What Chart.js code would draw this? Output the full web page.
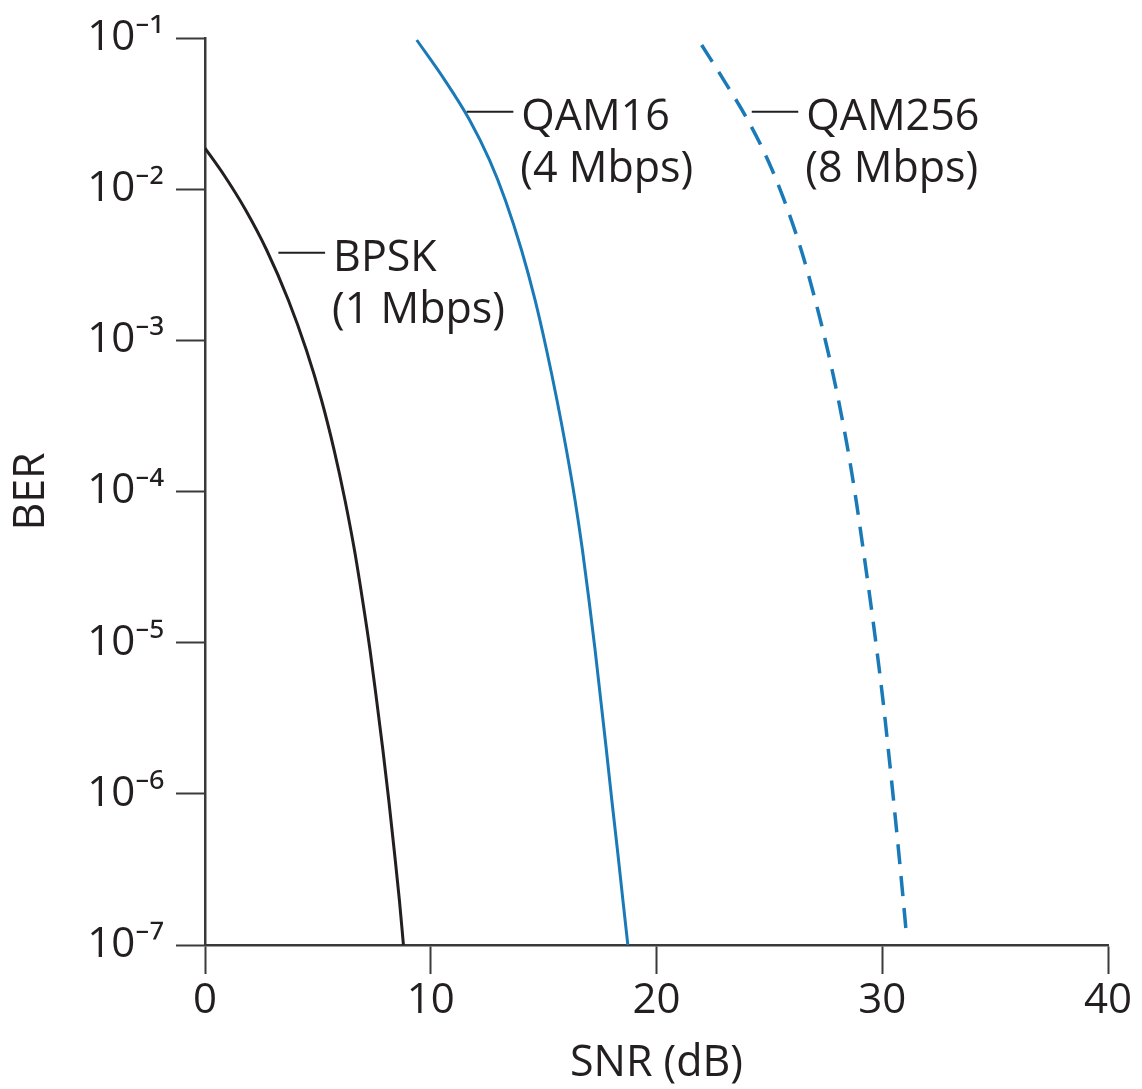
<!DOCTYPE html>
<html>
<head>
<meta charset="utf-8">
<script src="https://cdn.jsdelivr.net/npm/chart.js@4.4.0/dist/chart.umd.min.js"></script>
<style>
html,body{margin:0;padding:0;background:#ffffff;}
#wrap{width:1142px;height:1089px;position:relative;}
</style>
</head>
<body>
<div id="wrap"><canvas id="c"></canvas></div>
<script>
// ---- data ----
const bpskSnr = [0, 0.84, 1.80, 2.73, 3.69, 4.49, 5.16, 5.72, 6.20, 6.62, 6.98, 7.31, 7.60, 7.88, 8.14, 8.38, 8.61, 8.79];
const bpskBer = [1.87e-2, 1.24e-2, 7.28e-3, 3.96e-3, 1.85e-3, 8.63e-4, 4.03e-4, 1.88e-4, 8.79e-5, 4.10e-5, 1.91e-5, 8.94e-6, 4.18e-6, 1.95e-6, 9.10e-7, 4.25e-7, 1.99e-7, 1.0e-7];

const qam16Snr = [9.38, 10.62, 11.72, 12.60, 13.31, 14.02, 14.62, 15.13, 15.59, 16.01, 16.39, 16.72, 17.01, 17.28, 17.53, 17.78, 18.02, 18.27, 18.51, 18.73];
const qam16Ber = [9.7e-2, 5.27e-2, 2.87e-2, 1.56e-2, 8.42e-3, 3.96e-3, 1.85e-3, 8.63e-4, 4.03e-4, 1.88e-4, 8.79e-5, 4.10e-5, 1.91e-5, 8.94e-6, 4.18e-6, 1.95e-6, 9.10e-7, 4.25e-7, 1.99e-7, 1.0e-7];

const qam256Snr = [22.00, 22.98, 24.04, 24.93, 25.66, 26.41, 27.03, 27.58, 28.06, 28.48, 28.84, 29.16, 29.47, 29.76, 30.03, 30.27, 30.50, 30.72, 30.93, 31.08];
const qam256Ber = [8.99e-2, 5.27e-2, 2.87e-2, 1.56e-2, 8.42e-3, 3.96e-3, 1.85e-3, 8.63e-4, 4.03e-4, 1.88e-4, 8.79e-5, 4.10e-5, 1.91e-5, 8.94e-6, 4.18e-6, 1.95e-6, 9.10e-7, 4.25e-7, 1.99e-7, 1.13e-7];

const seriesNames = ['BPSK', 'QAM16', 'QAM256'];
const seriesRates = ['(1 Mbps)', '(4 Mbps)', '(8 Mbps)'];

const xTickValues = [0, 10, 20, 30, 40];
const yTickValues = [1e-7, 1e-6, 1e-5, 1e-4, 1e-3, 1e-2, 1e-1];
const yTickLabels = ['10\u207B\u2077', '10\u207B\u2076', '10\u207B\u2075', '10\u207B\u2074', '10\u207B\u00B3', '10\u207B\u00B2', '10\u207B\u00B9'];

const xTitle = 'SNR (dB)';
const yTitle = 'BER';

// leader-line anchors for the curve labels (data coordinates)
const labelLeaderStart = [3.25, 11.59, 24.22];
const labelLeaderEnd   = [5.32, 13.66, 26.28];
const labelLeaderBer   = [3.79e-3, 3.25e-2, 3.25e-2];

// ---- styling ----
const INK = '#231f20';
const AXIS = '#3a3a3a';
const BLUE = '#1a7ab8';
const FONT = "'Open Sans', 'Noto Sans', 'DejaVu Sans', sans-serif";
Chart.defaults.font.family = FONT;
Chart.defaults.color = INK;

const zip = (xs, ys) => xs.map((x, i) => ({x: x, y: ys[i]}));

const labelPlugin = {
  id: 'curveLabels',
  afterDatasetsDraw(chart) {
    const ctx = chart.ctx;
    const xs = chart.scales.x, ys = chart.scales.y;
    ctx.save();
    for (let i = 0; i < seriesNames.length; i++) {
      const x0 = xs.getPixelForValue(labelLeaderStart[i]);
      const x1 = xs.getPixelForValue(labelLeaderEnd[i]);
      const y = ys.getPixelForValue(labelLeaderBer[i]);
      ctx.strokeStyle = INK;
      ctx.lineWidth = 2;
      ctx.beginPath();
      ctx.moveTo(x0, y);
      ctx.lineTo(x1, y);
      ctx.stroke();
      ctx.fillStyle = INK;
      ctx.font = '43px ' + FONT;
      ctx.textAlign = 'left';
      ctx.textBaseline = 'alphabetic';
      ctx.fillText(seriesNames[i], x1 + 8, y + 18);
      ctx.fillText(seriesRates[i], x1 + 7, y + 70);
    }
    ctx.restore();
  }
};

new Chart(document.getElementById('c'), {
  type: 'line',
  data: {
    datasets: [
      {label: seriesNames[0], data: zip(bpskSnr, bpskBer), borderColor: INK, borderWidth: 3, pointRadius: 0, cubicInterpolationMode: 'monotone', fill: false},
      {label: seriesNames[1], data: zip(qam16Snr, qam16Ber), borderColor: BLUE, borderWidth: 3, pointRadius: 0, cubicInterpolationMode: 'monotone', fill: false},
      {label: seriesNames[2], data: zip(qam256Snr, qam256Ber), borderColor: BLUE, borderWidth: 3.5, borderDash: [20, 12], pointRadius: 0, cubicInterpolationMode: 'monotone', fill: false}
    ]
  },
  options: {
    responsive: true,
    maintainAspectRatio: false,
    animation: false,
    layout: {padding: {top: 38, right: 34, left: 0, bottom: 0}},
    plugins: {legend: {display: false}, tooltip: {enabled: false}},
    scales: {
      x: {
        type: 'linear',
        min: 0, max: 40,
        afterBuildTicks: s => { s.ticks = xTickValues.map(v => ({value: v})); },
        afterFit: s => { s.height = 144; },
        grid: {drawOnChartArea: false, drawTicks: true, tickLength: 29, tickWidth: 2, tickColor: AXIS, color: AXIS},
        border: {display: true, color: AXIS, width: 2.5},
        ticks: {color: INK, font: {size: 42}, padding: 2, maxRotation: 0},
        title: {display: true, text: xTitle, color: INK, font: {size: 43, lineHeight: 1}, padding: {top: 0, bottom: 4}}
      },
      y: {
        type: 'logarithmic',
        min: 1e-7, max: 1e-1,
        afterBuildTicks: s => { s.ticks = yTickValues.map(v => ({value: v})); },
        afterFit: s => { s.width = 205; },
        grid: {drawOnChartArea: false, drawTicks: true, tickLength: 29, tickWidth: 2, tickColor: AXIS, color: AXIS},
        border: {display: true, color: AXIS, width: 2.5},
        ticks: {color: INK, font: {size: 42}, padding: 12, callback: (v, i) => yTickLabels[i]},
        title: {display: true, text: yTitle, color: INK, font: {size: 43, lineHeight: 1}, padding: {top: 10, bottom: 0}}
      }
    }
  },
  plugins: [labelPlugin]
});
</script>
</body>
</html>
